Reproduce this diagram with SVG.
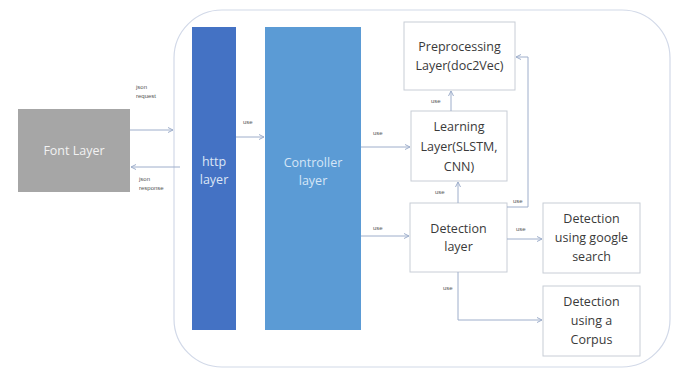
<svg xmlns="http://www.w3.org/2000/svg" width="678" height="368" viewBox="0 0 678 368">
<defs>
<style>
.box{fill:#fff;stroke:#c8cdd6;stroke-width:1}
.t{font-family:"Open Sans","Liberation Sans",sans-serif;font-size:12.5px;fill:#3a3a3a;text-anchor:middle}
.w{font-family:"Open Sans","Liberation Sans",sans-serif;font-size:12.5px;text-anchor:middle}
.lbl{font-family:"Liberation Sans",sans-serif;font-size:6px;fill:#555}
.c{fill:none;stroke:#9eaecb;stroke-width:1}
</style>
<marker id="a" markerWidth="6" markerHeight="6" refX="5" refY="3" orient="auto" markerUnits="userSpaceOnUse">
<path d="M0,0.5 L5,3 L0,5.5" fill="none" stroke="#9eaecb" stroke-width="1"/>
</marker>
</defs>
<rect width="678" height="368" fill="#fff"/>
<g id="container"><rect x="174" y="10" width="496" height="357" rx="48" ry="48" fill="#fff" stroke="#d2d9e8" stroke-width="1.2"/></g>
<g id="font-layer"><rect x="18" y="109" width="112" height="83" fill="#a6a6a6"/><text class="w" x="74" y="155" fill="#f2f2f2">Font Layer</text></g>
<g id="http-layer"><rect x="192" y="27" width="44" height="303" fill="#4472c4"/><text class="w" fill="#dce6f5" x="214" y="166">http</text><text class="w" fill="#dce6f5" x="214" y="184">layer</text></g>
<g id="controller-layer"><rect x="265" y="27" width="96" height="303" fill="#5b9bd5"/><text class="w" fill="#d6e6f7" x="313" y="167">Controller</text><text class="w" fill="#d6e6f7" x="313" y="185">layer</text></g>
<g id="preprocessing"><rect class="box" x="404" y="22" width="111" height="68"/><text class="t" x="459.5" y="51">Preprocessing</text><text class="t" x="459.5" y="70">Layer(doc2Vec)</text></g>
<g id="learning"><rect class="box" x="411" y="111" width="96" height="70"/><text class="t" x="459" y="131">Learning</text><text class="t" x="459" y="151">Layer(SLSTM,</text><text class="t" x="459" y="171">CNN)</text></g>
<g id="detection"><rect class="box" x="410" y="203" width="97" height="69"/><text class="t" x="458.5" y="233">Detection</text><text class="t" x="458.5" y="251">layer</text></g>
<g id="google"><rect class="box" x="543" y="203" width="97" height="70"/><text class="t" x="591.5" y="223">Detection</text><text class="t" x="591.5" y="242">using google</text><text class="t" x="591.5" y="261">search</text></g>
<g id="corpus"><rect class="box" x="543" y="286" width="97" height="70"/><text class="t" x="591.5" y="306">Detection</text><text class="t" x="591.5" y="325">using a</text><text class="t" x="591.5" y="344">Corpus</text></g>
<g id="connectors">
<line class="c" x1="130" y1="130" x2="173" y2="130" marker-end="url(#a)"/>
<line class="c" x1="180" y1="167" x2="131" y2="167" marker-end="url(#a)"/>
<line class="c" x1="236" y1="137" x2="264" y2="137" marker-end="url(#a)"/>
<line class="c" x1="361" y1="147" x2="410" y2="147" marker-end="url(#a)"/>
<line class="c" x1="361" y1="236" x2="409" y2="236" marker-end="url(#a)"/>
<line class="c" x1="451" y1="111" x2="451" y2="91" marker-end="url(#a)"/>
<line class="c" x1="458" y1="203" x2="458" y2="182" marker-end="url(#a)"/>
<polyline class="c" points="507,207 528,207 528,57 516,57" marker-end="url(#a)"/>
<line class="c" x1="507" y1="239" x2="542" y2="239" marker-end="url(#a)"/>
<polyline class="c" points="458,272 458,320 542,320" marker-end="url(#a)"/>
<text class="lbl" x="136" y="89">json</text><text class="lbl" x="136" y="98">request</text>
<text class="lbl" x="139" y="181">json</text><text class="lbl" x="139" y="190">response</text>
<text class="lbl" x="243" y="124">use</text>
<text class="lbl" x="373" y="135">use</text>
<text class="lbl" x="373" y="230">use</text>
<text class="lbl" x="431" y="103">use</text>
<text class="lbl" x="435" y="194">use</text>
<text class="lbl" x="513" y="203">use</text>
<text class="lbl" x="516" y="231">use</text>
<text class="lbl" x="443" y="290">use</text>
</g>
</svg>
